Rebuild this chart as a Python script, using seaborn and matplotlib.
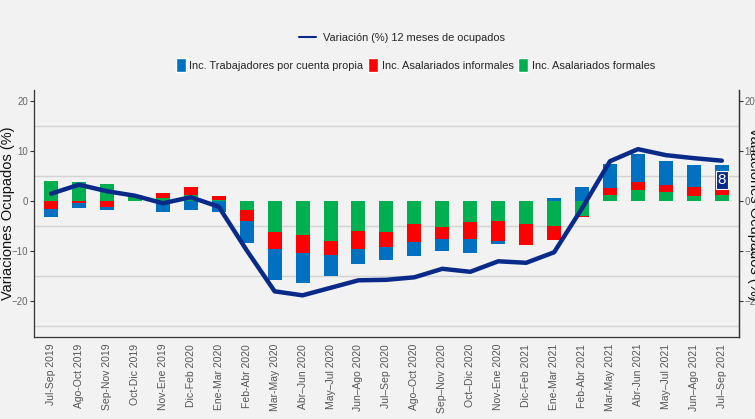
import numpy as np
import matplotlib
matplotlib.use("Agg")
import matplotlib.pyplot as plt
from matplotlib.lines import Line2D
from matplotlib.patches import Patch
from matplotlib.ticker import FixedLocator
import seaborn as sns

cats = ["Jul-Sep 2019", "Ago-Oct 2019", "Sep-Nov 2019", "Oct-Dic 2019", "Nov-Ene 2019",
        "Dic-Feb 2020", "Ene-Mar 2020", "Feb-Abr 2020", "Mar-May 2020", "Abr–Jun 2020",
        "May–Jul 2020", "Jun–Ago 2020", "Jul–Sep 2020", "Ago–Oct 2020", "Sep–Nov 2020",
        "Oct–Dic 2020", "Nov-Ene 2020", "Dic-Feb 2021", "Ene-Mar 2021", "Feb-Abr 2021",
        "Mar-May 2021", "Abr-Jun 2021", "May–Jul 2021", "Jun–Ago 2021", "Jul–Sep 2021"]

propia = [-1.7, -1.0, -0.6, 0.0, -2.3, -1.9, -2.2, -4.5, -6.2, -6.1, -4.2, -3.0, -2.7,
          -2.8, -2.3, -2.8, -0.6, 0.0, 0.5, 2.8, 4.9, 5.5, 4.8, 4.4, 4.8]
informales = [-1.6, -0.5, -1.3, 0.4, 1.1, 1.7, 0.7, -2.2, -3.5, -3.5, -2.8, -3.6, -3.0,
              -3.6, -2.4, -3.5, -4.0, -4.3, -2.8, -0.2, 1.4, 1.7, 1.4, 1.9, 1.2]
formales = [3.9, 3.7, 3.3, 0.8, 0.5, 1.1, 0.2, -1.8, -6.2, -6.9, -8.1, -6.1, -6.2,
            -4.7, -5.3, -4.2, -4.1, -4.6, -5.0, -3.1, 1.1, 2.1, 1.7, 0.9, 1.1]
variacion = [1.4, 3.2, 1.9, 1.0, -0.5, 0.7, -1.2, -9.9, -18.1, -18.9, -17.4, -15.9, -15.8,
             -15.3, -13.6, -14.2, -12.1, -12.4, -10.3, -1.5, 7.9, 10.3, 9.1, 8.5, 8.0]

label_line = "Variación (%) 12 meses de ocupados"
label_propia = "Inc. Trabajadores por cuenta propia"
label_inf = "Inc. Asalariados informales"
label_for = "Inc. Asalariados formales"
ylab = "Variaciones Ocupados (%)"

BG = "#F2F2F2"
C_BLUE = "#0070C0"
C_RED = "#FF0000"
C_GREEN = "#00B050"
C_LINE = "#0A2A8A"

sns.set_style("white", {"axes.facecolor": BG, "figure.facecolor": BG})
plt.rcParams["font.family"] = ["Liberation Sans", "DejaVu Sans"]

fig = plt.figure(figsize=(7.55, 4.19), dpi=100)
fig.patch.set_facecolor(BG)
ax = fig.add_axes([0.045, 0.196, 0.934, 0.589])
ax.set_facecolor(BG)

# stacked bars: order from zero outward = formales, informales, propia
pos_base = np.zeros(len(cats))
neg_base = np.zeros(len(cats))
for vals, col in [(formales, C_GREEN), (informales, C_RED), (propia, C_BLUE)]:
    v = np.array(vals, dtype=float)
    bottom = np.where(v >= 0, pos_base, neg_base)
    sns.barplot(x=cats, y=v, order=cats, bottom=bottom, color=col, saturation=1,
                width=0.5, errorbar=None, ax=ax, linewidth=0, zorder=2)
    pos_base = pos_base + np.where(v > 0, v, 0)
    neg_base = neg_base + np.where(v < 0, v, 0)

sns.lineplot(x=np.arange(len(cats)), y=variacion, color=C_LINE, linewidth=3.2, ax=ax,
             zorder=3)

ax.set_xlim(-0.61, 24.62)
ax.set_ylim(-27.2, 22.1)
ax.set_yticks([20, 10, 0, -10, -20])
ax.yaxis.set_minor_locator(FixedLocator([15, 5, -5, -15, -25]))
ax.grid(False)
ax.grid(which="minor", axis="y", color="#D3D3D3", linewidth=1.0, zorder=0)
ax.set_axisbelow(True)
ax.set_xticks(range(len(cats)))
ax.set_xticklabels(cats, rotation=90, fontsize=7.5, color="#555555")
ax.tick_params(axis="x", length=3, color="#333333", pad=2)
ax.tick_params(axis="y", which="major", length=3, color="#333333", labelsize=7,
               labelcolor="#666666", pad=1)
ax.tick_params(axis="y", which="minor", length=0)
ax.set_xlabel("")
ax.set_ylabel(ylab, fontsize=10.5, color="#111111")
ax.yaxis.set_label_coords(-0.027, 0.5)
for s in ["left", "bottom", "right"]:
    ax.spines[s].set_visible(True)
    ax.spines[s].set_color("#333333")
    ax.spines[s].set_linewidth(0.9)
ax.spines["top"].set_visible(False)

ax2 = ax.twinx()
ax2.set_ylim(ax.get_ylim())
ax2.set_yticks([20, 10, 0, -10, -20])
ax2.tick_params(axis="y", length=3, color="#333333", labelsize=7, labelcolor="#666666",
                pad=1)
for s in ["left", "bottom", "top"]:
    ax2.spines[s].set_visible(False)
ax2.spines["right"].set_color("#333333")
ax2.spines["right"].set_linewidth(0.9)

fig.text(0.99, 0.49, ylab, rotation=270, ha="left", va="center", fontsize=10.5,
         color="#111111")

ax.text(24, 4.2, "8", ha="center", va="center", color="white", fontsize=11, zorder=5,
        bbox=dict(boxstyle="square,pad=0.12", fc=C_LINE, ec="white", lw=0.8))

fig.legend(handles=[Line2D([0], [0], color=C_LINE, lw=1.5)], labels=[label_line],
           loc="center", bbox_to_anchor=(0.532, 0.909), frameon=False, fontsize=7.9,
           handlelength=1.6, handletextpad=0.6)
handles = [Patch(facecolor=C_BLUE), Patch(facecolor=C_RED), Patch(facecolor=C_GREEN)]
fig.legend(handles=handles, labels=[label_propia, label_inf, label_for], loc="center",
           bbox_to_anchor=(0.55, 0.845), frameon=False, fontsize=7.9, ncol=3,
           handlelength=0.9, handleheight=1.6, handletextpad=0.35, columnspacing=0.4)

fig.savefig("out.png", dpi=100, facecolor=BG)
